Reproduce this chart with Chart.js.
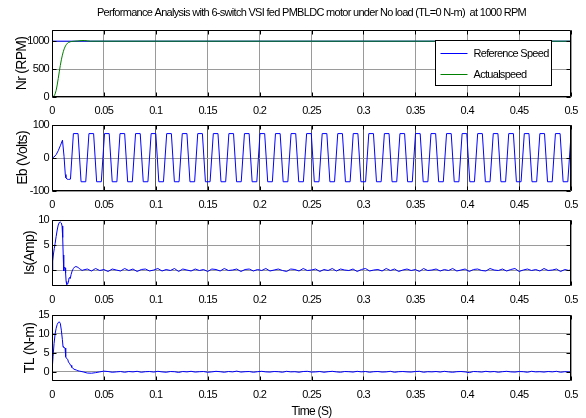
<!DOCTYPE html>
<html><head><meta charset="utf-8">
<script src="https://cdn.jsdelivr.net/npm/chart.js@4.4.0/dist/chart.umd.min.js"></script>
<style>
html,body{margin:0;padding:0;background:#fff;}
body{width:586px;height:418px;position:relative;overflow:hidden;}
canvas{position:absolute;left:0;}
</style></head><body>
<canvas id="c1" width="586" height="116" style="top:0px"></canvas>
<canvas id="c2" width="586" height="95" style="top:115px"></canvas>
<canvas id="c3" width="586" height="95" style="top:210px"></canvas>
<canvas id="c4" width="586" height="113" style="top:305px"></canvas>
<script>
// ---------- text ----------
const titleText = 'Performance Analysis with 6-switch VSI fed PMBLDC motor under No load (TL=0 N-m)  at 1000 RPM';
const xTitleText = 'Time (S)';
const yTitles = ['Nr (RPM)', 'Eb (Volts)', 'Is(Amp)', 'TL (N-m)'];
const speedLabels = ['Reference Speed', 'Actualspeed'];

// ---------- ticks ----------
const timeTicks = [0, 0.05, 0.1, 0.15, 0.2, 0.25, 0.3, 0.35, 0.4, 0.45, 0.5];
const timeTickLabels = ['0', '0.05', '0.1', '0.15', '0.2', '0.25', '0.3', '0.35', '0.4', '0.45', '0.5'];
const nrTicks = [0, 500, 1000];
const nrTickLabels = ['0', '500', '1000'];
const ebTicks = [-100, 0, 100];
const ebTickLabels = ['-100', '0', '100'];
const isTicks = [0, 5, 10];
const isTickLabels = ['0', '5', '10'];
const tlTicks = [0, 5, 10, 15];
const tlTickLabels = ['0', '5', '10', '15'];

// ---------- speed ----------
const speedRefTime = [0, 0.5];
const speedRefValue = [1000, 1000];
const speedActTime = [0, 0.001, 0.002, 0.003, 0.004, 0.005, 0.006, 0.007, 0.008, 0.009, 0.010, 0.011, 0.012, 0.013, 0.014, 0.015, 0.016, 0.018, 0.020, 0.022, 0.025, 0.028, 0.031, 0.034, 0.037, 0.5];
const speedActValue = [0, 5, 20, 55, 120, 215, 330, 450, 565, 665, 750, 820, 875, 915, 945, 965, 978, 991, 997, 1000, 1004, 1010, 1012, 1006, 1000, 1000];

// ---------- back EMF ----------
const ebTime = [0, 0.002, 0.004, 0.006, 0.008, 0.0101, 0.0116, 0.0128, 0.0134, 0.0145, 0.016, 0.0178,
  0.0206,0.0251,0.0280,0.0325, 0.0356,0.0401,0.0430,0.0475, 0.0506,0.0551,0.0580,0.0625,
  0.0655,0.0700,0.0729,0.0774, 0.0805,0.0850,0.0879,0.0924, 0.0955,0.1000,0.1029,0.1074,
  0.1105,0.1150,0.1179,0.1224, 0.1255,0.1300,0.1329,0.1374, 0.1404,0.1449,0.1478,0.1523,
  0.1554,0.1599,0.1628,0.1673, 0.1704,0.1749,0.1778,0.1823, 0.1854,0.1899,0.1928,0.1973,
  0.2004,0.2049,0.2078,0.2123, 0.2153,0.2198,0.2227,0.2272, 0.2303,0.2348,0.2377,0.2422,
  0.2453,0.2498,0.2527,0.2572, 0.2603,0.2648,0.2677,0.2722, 0.2753,0.2798,0.2827,0.2872,
  0.2902,0.2947,0.2976,0.3021, 0.3052,0.3097,0.3126,0.3171, 0.3202,0.3247,0.3276,0.3321,
  0.3352,0.3397,0.3426,0.3471, 0.3502,0.3547,0.3576,0.3621, 0.3651,0.3696,0.3725,0.3770,
  0.3801,0.3846,0.3875,0.3920, 0.3951,0.3996,0.4025,0.4070, 0.4101,0.4146,0.4175,0.4220,
  0.4251,0.4296,0.4325,0.4370, 0.4400,0.4445,0.4474,0.4519, 0.4550,0.4595,0.4624,0.4669,
  0.4700,0.4745,0.4774,0.4819, 0.4850,0.4895,0.4924,0.4969, 0.5000];
const ebValue = [0, 3, 10, 22, 37, 54, 5, -50, -60, -64, -65, -64,
  74,74,-72,-72, 74,74,-72,-72, 74,74,-72,-72,
  74,74,-72,-72, 74,74,-72,-72, 74,74,-72,-72,
  74,74,-72,-72, 74,74,-72,-72, 74,74,-72,-72,
  74,74,-72,-72, 74,74,-72,-72, 74,74,-72,-72,
  74,74,-72,-72, 74,74,-72,-72, 74,74,-72,-72,
  74,74,-72,-72, 74,74,-72,-72, 74,74,-72,-72,
  74,74,-72,-72, 74,74,-72,-72, 74,74,-72,-72,
  74,74,-72,-72, 74,74,-72,-72, 74,74,-72,-72,
  74,74,-72,-72, 74,74,-72,-72, 74,74,-72,-72,
  74,74,-72,-72, 74,74,-72,-72, 74,74,-72,-72,
  74,74,-72,-72, 74,74,-72,-72, 70];

// ---------- stator current (start-up) ----------
const isStartTime = [0, 0.0007, 0.0014, 0.0022, 0.0030, 0.0040, 0.0050, 0.0060, 0.0070, 0.0080,
  0.0090, 0.0097, 0.0103, 0.0108, 0.0113, 0.0117, 0.0122, 0.0127, 0.0131, 0.0136,
  0.0142, 0.0150, 0.0158, 0.0164, 0.0170, 0.0176, 0.0184, 0.0194, 0.0206, 0.0218,
  0.0230, 0.0242, 0.0254, 0.0266, 0.0278, 0.0290];
const isStartValue = [0, 1.8, 3.2, 4.3, 5.3, 6.7, 8.0, 9.0, 9.5, 9.6,
  9.4, 8.8, 6.5, 3.0, -0.2, 0.5, 0.6, 0.4, -0.6, -2.3,
  -2.9, -2.8, -2.5, -1.6, -1.5, -1.7, -0.9, -0.2, 0.3, 0.6,
  0.7, 0.6, 0.5, 0.2, 0.1, -0.1];

// ---------- torque (start-up) ----------
const tlStartTime = [0, 0.001, 0.002, 0.003, 0.004, 0.005, 0.006, 0.007, 0.008, 0.009,
  0.0100, 0.0106, 0.0110, 0.0126, 0.0132, 0.0138, 0.0152, 0.0158, 0.0168, 0.0174,
  0.0184, 0.0190, 0.0200, 0.0212, 0.0234, 0.0250, 0.0266];
const tlStartValue = [0, 4.0, 7.5, 10.0, 11.5, 12.5, 13.0, 13.2, 12.8, 11.0,
  8.5, 6.7, 6.5, 6.3, 4.0, 3.6, 3.3, 2.6, 2.3, 1.9,
  1.7, 1.2, 1.0, 0.7, 0.5, 0.3, 0.2];

// ---------- steady-state samples (shared time grid) ----------
const steadyTime = [0.030,0.034,0.038,0.042,0.046,0.050,0.054,0.058,0.062,0.066,
  0.070,0.074,0.078,0.082,0.086,0.090,0.094,0.098,0.102,0.106,
  0.110,0.114,0.118,0.122,0.126,0.130,0.134,0.138,0.142,0.146,
  0.150,0.154,0.158,0.162,0.166,0.170,0.174,0.178,0.182,0.186,
  0.190,0.194,0.198,0.202,0.206,0.210,0.214,0.218,0.222,0.226,
  0.230,0.234,0.238,0.242,0.246,0.250,0.254,0.258,0.262,0.266,
  0.270,0.274,0.278,0.282,0.286,0.290,0.294,0.298,0.302,0.306,
  0.310,0.314,0.318,0.322,0.326,0.330,0.334,0.338,0.342,0.346,
  0.350,0.354,0.358,0.362,0.366,0.370,0.374,0.378,0.382,0.386,
  0.390,0.394,0.398,0.402,0.406,0.410,0.414,0.418,0.422,0.426,
  0.430,0.434,0.438,0.442,0.446,0.450,0.454,0.458,0.462,0.466,
  0.470,0.474,0.478,0.482,0.486,0.490,0.494,0.498,0.500];
const isSteadyValue = [0.0,0.2,-0.2,0.3,-0.1,0.1,-0.3,0.2,0.0,-0.2,
  0.3,-0.1,0.2,-0.3,0.1,0.2,-0.2,0.0,0.3,-0.2,
  0.1,-0.1,0.3,-0.3,0.2,0.0,-0.2,0.2,-0.1,0.1,
  -0.3,0.2,0.1,-0.2,0.3,-0.1,0.0,0.2,-0.3,0.1,
  0.2,-0.2,0.1,-0.1,0.3,-0.2,0.0,0.2,-0.1,-0.3,
  0.2,0.1,-0.2,0.3,-0.1,0.0,0.2,-0.3,0.1,-0.1,
  0.3,-0.2,0.2,0.0,-0.1,0.2,-0.3,0.1,0.3,-0.2,
  0.0,0.1,-0.2,0.3,-0.1,0.2,-0.3,0.0,0.2,-0.1,
  0.1,-0.3,0.3,-0.1,0.0,0.2,-0.2,0.1,-0.1,0.3,
  -0.2,0.0,0.2,-0.3,0.1,0.2,-0.1,-0.2,0.3,0.0,
  -0.1,0.2,-0.2,0.1,0.3,-0.3,0.0,0.2,-0.1,0.1,
  -0.2,0.3,-0.1,0.0,0.2,-0.3,0.1,-0.1,0.1];
const tlSteadyValue = [0.0,-0.3,-0.35,-0.2,0.0,0.2,0.1,-0.1,0.0,0.1,
  -0.1,0.1,0.0,0.15,-0.1,0.05,0.1,-0.05,0.15,0.0,
  -0.1,0.1,0.05,-0.15,0.1,0.0,0.15,-0.05,0.05,0.1,
  -0.1,0.0,0.15,0.05,-0.1,0.1,0.0,0.2,-0.05,0.05,
  0.1,-0.1,0.05,0.15,0.0,-0.05,0.1,0.05,-0.1,0.15,
  0.0,0.05,-0.1,0.1,0.15,-0.05,0.0,0.1,-0.1,0.05,
  0.15,0.0,-0.1,0.1,0.05,-0.05,0.15,0.0,0.1,-0.1,
  0.05,0.1,-0.05,0.0,0.15,-0.1,0.05,0.1,0.0,-0.05,
  0.1,0.15,-0.1,0.05,0.0,0.1,-0.05,0.15,0.0,-0.1,
  0.05,0.1,0.0,-0.2,0.1,0.05,-0.05,0.15,0.0,0.1,
  -0.1,0.05,0.15,0.0,-0.05,0.1,0.05,-0.1,0.15,0.0,
  0.05,-0.05,0.1,0.0,0.15,-0.1,0.05,0.0,0.0];

// ---------- styling ----------
const SANS = "'Liberation Sans', Arial, sans-serif";
const tickFont = { family: SANS, size: 11 };
const TIGHT = '-0.7px';
const GRID = '#9a9a9a';
const BLUE = '#0000ff';
const GREEN = '#008000';

function zip(ts, vs) { return ts.map((t, i) => ({ x: t, y: vs[i] })); }

const tightText = {
  id: 'tightText',
  beforeUpdate(chart) { chart.ctx.letterSpacing = TIGHT; },
  beforeDraw(chart) { chart.ctx.letterSpacing = TIGHT; }
};

const boxPlugin = {
  id: 'matlabBox',
  afterDatasetsDraw(chart) {
    const { ctx, chartArea: a, scales } = chart;
    const L = Math.round(a.left) + 0.5, R = Math.round(a.right) - 0.5;
    const T = Math.round(a.top) + 0.5, B = Math.round(a.bottom) - 0.5;
    const tl = 4;
    ctx.save();
    ctx.strokeStyle = '#000';
    ctx.lineWidth = 1;
    ctx.beginPath();
    ctx.rect(L, T, R - L, B - T);
    scales.x.ticks.forEach(t => {
      const x = Math.round(scales.x.getPixelForValue(t.value)) + 0.5;
      ctx.moveTo(x, T); ctx.lineTo(x, T + tl);
      ctx.moveTo(x, B); ctx.lineTo(x, B - tl);
    });
    scales.y.ticks.forEach(t => {
      const y = Math.round(scales.y.getPixelForValue(t.value)) + 0.5;
      ctx.moveTo(L, y); ctx.lineTo(L + tl, y);
      ctx.moveTo(R, y); ctx.lineTo(R - tl, y);
    });
    ctx.stroke();
    ctx.restore();
  }
};

const legendPlugin = {
  id: 'boxLegend',
  afterDraw(chart) {
    const { ctx, chartArea: a } = chart;
    const w = 116, h = 45;
    const x = Math.round(a.right - 20 - w) + 0.5, y = Math.round(a.top + 10) + 0.5;
    ctx.save();
    ctx.letterSpacing = TIGHT;
    ctx.fillStyle = '#fff';
    ctx.fillRect(x, y, w, h);
    ctx.strokeStyle = '#000';
    ctx.lineWidth = 1;
    ctx.strokeRect(x, y, w, h);
    ctx.font = `${tickFont.size}px ${tickFont.family}`;
    ctx.textBaseline = 'middle';
    ctx.textAlign = 'left';
    chart.data.datasets.forEach((ds, i) => {
      const yy = Math.round(y + 12 + i * 21) + 0.5;
      ctx.strokeStyle = ds.borderColor;
      ctx.beginPath(); ctx.moveTo(x + 5, yy); ctx.lineTo(x + 32, yy); ctx.stroke();
      ctx.fillStyle = '#000';
      ctx.fillText(ds.label, x + 38, yy);
    });
    ctx.restore();
  }
};

function makePlot(id, cfg) {
  return new Chart(document.getElementById(id), {
    type: 'line',
    data: { datasets: cfg.datasets },
    options: {
      responsive: false, animation: false, events: [],
      layout: { padding: { top: cfg.padTop, right: 15, left: 0, bottom: 0 } },
      plugins: {
        legend: { display: false }, tooltip: { enabled: false },
        title: cfg.title || { display: false }
      },
      elements: { point: { radius: 0 }, line: { tension: 0, borderWidth: 1 } },
      scales: {
        x: {
          type: 'linear', min: 0, max: 0.5,
          afterBuildTicks: s => { s.ticks = timeTicks.map(v => ({ value: v })); },
          afterFit: s => { s.height = cfg.xHeight; },
          grid: { color: cfg.xGrid || GRID, drawTicks: false, lineWidth: 1 },
          border: { display: false },
          ticks: { font: tickFont, color: '#000', padding: 7, maxRotation: 0, autoSkip: false,
                   callback: (v, i) => timeTickLabels[i] },
          title: cfg.xTitle || { display: false }
        },
        y: {
          type: 'linear', min: cfg.yMin, max: cfg.yMax,
          afterBuildTicks: s => { s.ticks = cfg.yTicks.map(v => ({ value: v })); },
          afterFit: s => { s.width = 52; },
          grid: { color: GRID, drawTicks: false, lineWidth: 1 },
          border: { display: false },
          ticks: { font: tickFont, color: '#000', padding: 3, callback: (v, i) => cfg.yTickLabels[i] },
          title: { display: true, text: cfg.yTitle, color: '#000',
                   font: { family: SANS, size: 14 },
                   padding: { top: cfg.yTitlePad, bottom: 0 } }
        }
      }
    },
    plugins: [tightText].concat(cfg.plugins)
  });
}

makePlot('c1', {
  padTop: 0, xHeight: 19, yMin: 0, yMax: 1200, yTicks: nrTicks, yTickLabels: nrTickLabels,
  yTitle: yTitles[0], yTitlePad: 13.6,
  title: { display: true, text: titleText, color: '#000', fullSize: false,
           font: { family: SANS, size: 11, weight: 'normal' }, padding: { top: 6.4, bottom: 10.4 } },
  datasets: [
    { label: speedLabels[0], data: zip(speedRefTime, speedRefValue), borderColor: BLUE, order: 1 },
    { label: speedLabels[1], data: zip(speedActTime, speedActValue), borderColor: GREEN, order: 0 }
  ],
  plugins: [boxPlugin, legendPlugin]
});

makePlot('c2', {
  padTop: 10, xHeight: 19, yMin: -100, yMax: 100, yTicks: ebTicks, yTickLabels: ebTickLabels,
  yTitle: yTitles[1], yTitlePad: 14.6, xGrid: '#555555',
  datasets: [{ label: 'Eb', data: zip(ebTime, ebValue), borderColor: BLUE }],
  plugins: [boxPlugin]
});

makePlot('c3', {
  padTop: 10, xHeight: 19, yMin: -3.2, yMax: 10, yTicks: isTicks, yTickLabels: isTickLabels,
  yTitle: yTitles[2], yTitlePad: 21.6,
  datasets: [{ label: 'Is', data: zip(isStartTime.concat(steadyTime), isStartValue.concat(isSteadyValue)), borderColor: BLUE }],
  plugins: [boxPlugin]
});

makePlot('c4', {
  padTop: 10, xHeight: 37, yMin: -2.4, yMax: 15, yTicks: tlTicks, yTickLabels: tlTickLabels,
  yTitle: yTitles[3], yTitlePad: 21.6,
  xTitle: { display: true, text: xTitleText, color: '#000', font: { family: SANS, size: 12, lineHeight: 1.1 }, padding: { top: 0, bottom: 0 } },
  datasets: [{ label: 'TL', data: zip(tlStartTime.concat(steadyTime), tlStartValue.concat(tlSteadyValue)), borderColor: BLUE }],
  plugins: [boxPlugin]
});
</script>
</body></html>
